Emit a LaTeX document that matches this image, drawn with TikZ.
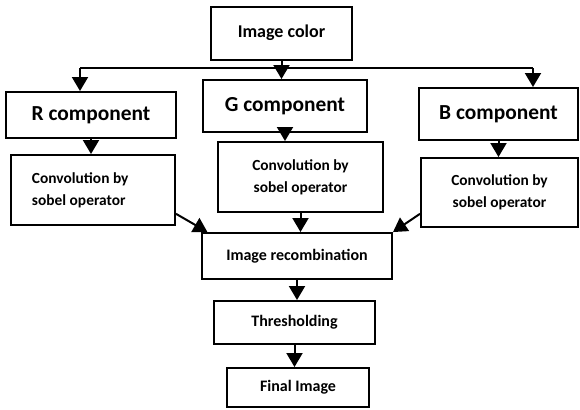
\documentclass[tikz,border=0pt]{standalone}
\usepackage{fontspec}
\setmainfont{Carlito}
\usetikzlibrary{arrows.meta}
\begin{document}
\begin{tikzpicture}[x=0.5pt, y=-0.5pt]
        \tikzstyle{blk} = [draw, black, line width=1pt, -{Triangle[width=8pt,length=7pt]}]
        \tikzstyle{box} = [draw, line width=1pt, inner sep=0pt, align=center, font=\bfseries]
        \useasboundingbox (0, 0) rectangle (580, 409);
        
        \node[box, minimum width=70.5pt, minimum height=26.5pt, font=\bfseries\fontsize{9}{11}\selectfont] (color) at (281.5, 33) {Image color};
        \node[box, minimum width=85pt, minimum height=23pt, font=\bfseries\fontsize{10.7}{12}\selectfont] (rcomp) at (91, 115) {R component};
        \node[box, minimum width=82pt, minimum height=26pt, font=\bfseries\fontsize{10.7}{12}\selectfont] (gcomp) at (285, 106) {G component};
        \node[box, minimum width=79.5pt, minimum height=26pt, font=\bfseries\fontsize{10.7}{12}\selectfont] (bcomp) at (498.5, 114) {B component};
        \node[box, inner xsep=10.5pt, text width=61pt, minimum height=35pt, align=flush left, font=\bfseries\fontsize{7.7}{11}\selectfont] (rconv) at (93, 190) {Convolution by\\sobel operator};
        \node[box, minimum width=82.5pt, minimum height=35pt, font=\bfseries\fontsize{7.7}{11}\selectfont] (gconv) at (300.5, 177) {Convolution by\\sobel operator};
        \node[box, minimum width=78.5pt, minimum height=34.5pt, font=\bfseries\fontsize{7.7}{11}\selectfont] (bconv) at (499.5, 192.5) {Convolution by\\sobel operator};
        \node[box, minimum width=95pt, minimum height=23pt, font=\bfseries\fontsize{8}{10}\selectfont] (recomb) at (297, 256) {Image recombination};
        \node[box, minimum width=80.5pt, minimum height=21.5pt, font=\bfseries\fontsize{8}{10}\selectfont] (thresh) at (294.5, 322.5) {Thresholding};
        \node[box, minimum width=71pt, minimum height=19.5pt, font=\bfseries\fontsize{8}{10}\selectfont] (final) at (298, 387.5) {Final Image};
        
        \coordinate (left) at (80, 68);
        \coordinate (right) at (533, 68);
        
        \draw[line width=1pt] (left) -- (right);
        \path[blk] (color.south) to (color.south |- gcomp.north);
        \path[blk] (left) to (left |- rcomp.north);
        \path[blk] (right) to (right |- bcomp.north);
        \path[blk] (rcomp.south) to (rcomp.south |- rconv.north);
        \path[blk] (gcomp.south) to (gcomp.south |- gconv.north);
        \path[blk] (bcomp.south) to (bcomp.south |- bconv.north);
        \path[blk] (rconv.-16) to (recomb.165);
        \path[blk] (gconv.south) to (gconv.south |- recomb.north);
        \path[blk] (bconv.195) to (recomb.14);
        \path[blk] (recomb.south) to (recomb.south |- thresh.north);
        \path[blk] (thresh.south) to (thresh.south |- final.north);
    \end{tikzpicture}
\end{document}
